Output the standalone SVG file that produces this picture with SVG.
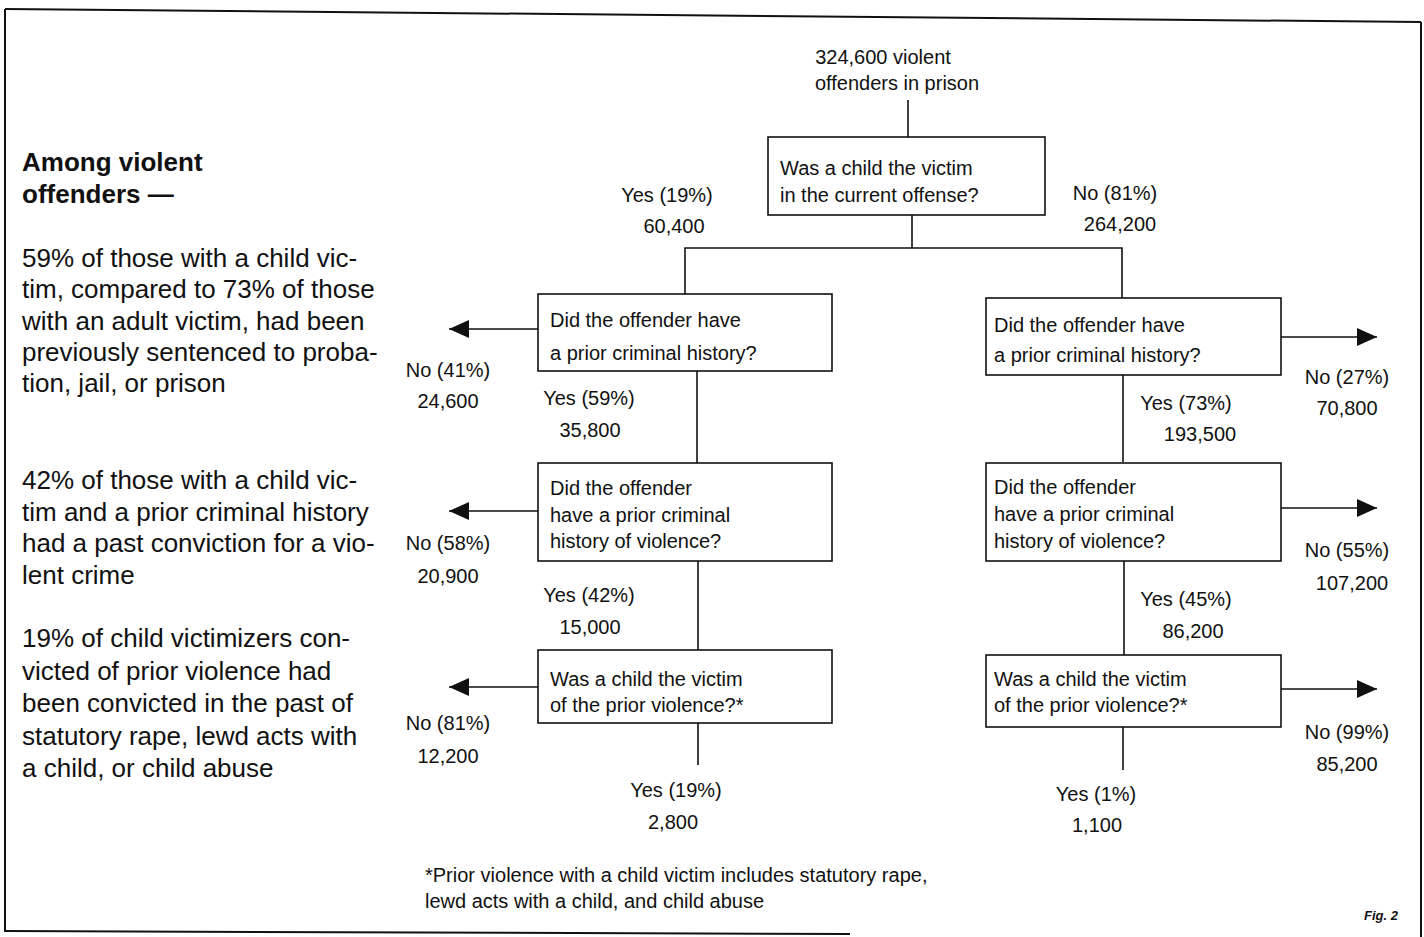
<svg xmlns="http://www.w3.org/2000/svg" width="1424" height="937" viewBox="0 0 1424 937">
<defs>
<style>
.t{font-family:"Liberation Sans",Arial,sans-serif;font-size:20px;fill:#111}
.l{font-family:"Liberation Sans",Arial,sans-serif;font-size:26px;fill:#111}
.b{font-weight:bold}
.box{fill:#fff;stroke:#111;stroke-width:1.6}
.c{fill:none;stroke:#111;stroke-width:1.6}
.fr{fill:none;stroke:#111;stroke-width:2}
</style>
<marker id="ah" viewBox="0 0 20 18" refX="20" refY="9" markerWidth="20" markerHeight="18" markerUnits="userSpaceOnUse" orient="auto">
<path d="M0,0 L20,9 L0,18 Z" fill="#111"/>
</marker>
</defs>
<rect width="1424" height="937" fill="#fff"/>
<g id="frame">
<line class="fr" x1="5" y1="9" x2="1421" y2="22"/>
<line class="fr" x1="5" y1="9" x2="5" y2="932"/>
<line class="fr" x1="1421" y1="22" x2="1421" y2="937"/>
<line class="fr" x1="5" y1="931" x2="850" y2="934"/>
</g>
<g id="sidebar">
<text class="l b" x="22" y="171">Among violent</text>
<text class="l b" x="22" y="203">offenders —</text>
<text class="l" x="22" y="267">59% of those with a child vic-</text>
<text class="l" x="22" y="298">tim, compared to 73% of those</text>
<text class="l" x="22" y="330">with an adult victim, had been</text>
<text class="l" x="22" y="361">previously sentenced to proba-</text>
<text class="l" x="22" y="392">tion, jail, or prison</text>
<text class="l" x="22" y="489">42% of those with a child vic-</text>
<text class="l" x="22" y="521">tim and a prior criminal history</text>
<text class="l" x="22" y="552">had a past conviction for a vio-</text>
<text class="l" x="22" y="584">lent crime</text>
<text class="l" x="22" y="647">19% of child victimizers con-</text>
<text class="l" x="22" y="680">victed of prior violence had</text>
<text class="l" x="22" y="712">been convicted in the past of</text>
<text class="l" x="22" y="745">statutory rape, lewd acts with</text>
<text class="l" x="22" y="777">a child, or child abuse</text>
</g>
<g id="connectors">
<line class="c" x1="908" y1="100" x2="908" y2="137"/>
<polyline class="c" points="912,215 912,248"/>
<polyline class="c" points="685,295 685,248 1122,248 1122,298"/>
<line class="c" x1="697" y1="371" x2="697" y2="463"/>
<line class="c" x1="698" y1="561" x2="698" y2="651"/>
<line class="c" x1="698" y1="723" x2="698" y2="765"/>
<line class="c" x1="1123" y1="375" x2="1123" y2="462"/>
<line class="c" x1="1124" y1="561" x2="1124" y2="655"/>
<line class="c" x1="1123" y1="727" x2="1123" y2="770"/>
<line class="c" x1="538" y1="329" x2="449" y2="329" marker-end="url(#ah)"/>
<line class="c" x1="538" y1="511" x2="449" y2="511" marker-end="url(#ah)"/>
<line class="c" x1="538" y1="687" x2="449" y2="687" marker-end="url(#ah)"/>
<line class="c" x1="1281" y1="337" x2="1377" y2="337" marker-end="url(#ah)"/>
<line class="c" x1="1281" y1="508" x2="1377" y2="508" marker-end="url(#ah)"/>
<line class="c" x1="1281" y1="689" x2="1377" y2="689" marker-end="url(#ah)"/>
</g>
<g id="start">
<text class="t" x="883" y="64" text-anchor="middle">324,600 violent</text>
<text class="t" x="897" y="90" text-anchor="middle">offenders in prison</text>
</g>
<g id="q1">
<rect class="box" x="768" y="137" width="277" height="78"/>
<text class="t" x="780" y="175">Was a child the victim</text>
<text class="t" x="780" y="202">in the current offense?</text>
</g>
<g id="q1-labels">
<text class="t" x="667" y="202" text-anchor="middle">Yes (19%)</text>
<text class="t" x="674" y="233" text-anchor="middle">60,400</text>
<text class="t" x="1115" y="200" text-anchor="middle">No (81%)</text>
<text class="t" x="1120" y="231" text-anchor="middle">264,200</text>
</g>
<g id="l2">
<rect class="box" x="538" y="294" width="294" height="77"/>
<text class="t" x="550" y="327">Did the offender have</text>
<text class="t" x="550" y="360">a prior criminal history?</text>
<text class="t" x="448" y="377" text-anchor="middle">No (41%)</text>
<text class="t" x="448" y="408" text-anchor="middle">24,600</text>
<text class="t" x="589" y="405" text-anchor="middle">Yes (59%)</text>
<text class="t" x="590" y="437" text-anchor="middle">35,800</text>
</g>
<g id="l3">
<rect class="box" x="538" y="463" width="294" height="98"/>
<text class="t" x="550" y="495">Did the offender</text>
<text class="t" x="550" y="522">have a prior criminal</text>
<text class="t" x="550" y="548">history of violence?</text>
<text class="t" x="448" y="550" text-anchor="middle">No (58%)</text>
<text class="t" x="448" y="583" text-anchor="middle">20,900</text>
<text class="t" x="589" y="602" text-anchor="middle">Yes (42%)</text>
<text class="t" x="590" y="634" text-anchor="middle">15,000</text>
</g>
<g id="l4">
<rect class="box" x="538" y="650" width="294" height="73"/>
<text class="t" x="550" y="686">Was a child the victim</text>
<text class="t" x="550" y="712">of the prior violence?*</text>
<text class="t" x="448" y="730" text-anchor="middle">No (81%)</text>
<text class="t" x="448" y="763" text-anchor="middle">12,200</text>
<text class="t" x="676" y="797" text-anchor="middle">Yes (19%)</text>
<text class="t" x="673" y="829" text-anchor="middle">2,800</text>
</g>
<g id="r2">
<rect class="box" x="986" y="298" width="295" height="77"/>
<text class="t" x="994" y="332">Did the offender have</text>
<text class="t" x="994" y="362">a prior criminal history?</text>
<text class="t" x="1347" y="384" text-anchor="middle">No (27%)</text>
<text class="t" x="1347" y="415" text-anchor="middle">70,800</text>
<text class="t" x="1186" y="410" text-anchor="middle">Yes (73%)</text>
<text class="t" x="1200" y="441" text-anchor="middle">193,500</text>
</g>
<g id="r3">
<rect class="box" x="986" y="463" width="295" height="98"/>
<text class="t" x="994" y="494">Did the offender</text>
<text class="t" x="994" y="521">have a prior criminal</text>
<text class="t" x="994" y="548">history of violence?</text>
<text class="t" x="1347" y="557" text-anchor="middle">No (55%)</text>
<text class="t" x="1352" y="590" text-anchor="middle">107,200</text>
<text class="t" x="1186" y="606" text-anchor="middle">Yes (45%)</text>
<text class="t" x="1193" y="638" text-anchor="middle">86,200</text>
</g>
<g id="r4">
<rect class="box" x="986" y="655" width="295" height="72"/>
<text class="t" x="994" y="686">Was a child the victim</text>
<text class="t" x="994" y="712">of the prior violence?*</text>
<text class="t" x="1347" y="739" text-anchor="middle">No (99%)</text>
<text class="t" x="1347" y="771" text-anchor="middle">85,200</text>
<text class="t" x="1096" y="801" text-anchor="middle">Yes (1%)</text>
<text class="t" x="1097" y="832" text-anchor="middle">1,100</text>
</g>
<g id="footnote">
<text class="t" x="425" y="882">*Prior violence with a child victim includes statutory rape,</text>
<text class="t" x="425" y="908">lewd acts with a child, and child abuse</text>
<text class="t b" x="1398" y="920" text-anchor="end" style="font-size:13px;font-style:italic">Fig. 2</text>
</g>
</svg>
